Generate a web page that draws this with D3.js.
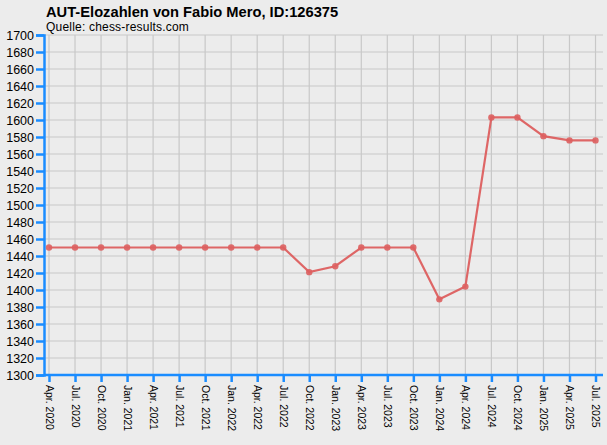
<!DOCTYPE html>
<html><head><meta charset="utf-8">
<script src="https://cdn.jsdelivr.net/npm/d3@7"></script>
<style>
html,body{margin:0;padding:0;background:#ececec;}
svg{display:block;}
text{font-family:"Liberation Sans",Arial,sans-serif;}
</style></head>
<body>
<script>
const title = "AUT-Elozahlen von Fabio Mero, ID:126375";
const subtitle = "Quelle: chess-results.com";
const categories = ["Apr. 2020","Jul. 2020","Oct. 2020","Jan. 2021","Apr. 2021","Jul. 2021","Oct. 2021","Jan. 2022","Apr. 2022","Jul. 2022","Oct. 2022","Jan. 2023","Apr. 2023","Jul. 2023","Oct. 2023","Jan. 2024","Apr. 2024","Jul. 2024","Oct. 2024","Jan. 2025","Apr. 2025","Jul. 2025"];
const elo = [1450,1450,1450,1450,1450,1450,1450,1450,1450,1450,1421,1428,1450,1450,1450,1389,1404,1603,1603,1581,1576,1576];
const yTicks = d3.range(1300, 1701, 20);

const W = 607, H = 445;
const svg = d3.select("body").append("svg").attr("width", W).attr("height", H);
svg.append("rect").attr("width", W).attr("height", H).attr("fill", "#ececec");

const x = d3.scalePoint().domain(categories).range([49, 595.5]);
const y = d3.scaleLinear().domain([1300, 1700]).range([375, 35]);
const axisBlue = "#1a8cff";

// grid
svg.append("g").selectAll("line.h").data(yTicks).join("line")
  .attr("x1", 44).attr("x2", 603).attr("y1", d => y(d)).attr("y2", d => y(d))
  .attr("stroke", "#c8c8c8").attr("stroke-width", 1.2);
svg.append("g").selectAll("line.v").data(categories).join("line")
  .attr("x1", d => x(d)).attr("x2", d => x(d)).attr("y1", 35).attr("y2", 375)
  .attr("stroke", "#c8c8c8").attr("stroke-width", 1.2);

// y axis
const yAxis = svg.append("g").attr("transform", "translate(44,0)")
  .call(d3.axisLeft(y).tickValues(yTicks).tickSize(8).tickPadding(2).tickFormat(d3.format("d")));
yAxis.select(".domain").attr("stroke", axisBlue).attr("stroke-width", 2.5);
yAxis.selectAll(".tick line").attr("stroke", axisBlue).attr("stroke-width", 2.5);
yAxis.selectAll(".tick text").attr("fill", "#000").attr("font-size", 12.5)
  .attr("font-family", "'Liberation Sans',Arial,sans-serif");

// x axis
const xAxis = svg.append("g").attr("transform", "translate(0,375)")
  .call(d3.axisBottom(x).tickSize(7).tickSizeOuter(0));
xAxis.select(".domain").attr("stroke", axisBlue).attr("stroke-width", 2.5).attr("d", "M44,0H603");
xAxis.selectAll(".tick line").attr("stroke", axisBlue).attr("stroke-width", 2.5);
xAxis.selectAll(".tick text").attr("fill", "#000").attr("font-size", 10.5)
  .attr("font-family", "'DejaVu Sans Mono','Liberation Mono',monospace")
  .attr("transform", "rotate(90)").attr("text-anchor", "start")
  .attr("x", 10).attr("y", 0).attr("dy", "0.35em");

// line
const pts = categories.map((c, i) => ({c, v: elo[i]}));
const lineColor = "#dd5f5f";
svg.append("path").datum(pts)
  .attr("d", d3.line().x(d => x(d.c)).y(d => y(d.v)))
  .attr("fill", "none").attr("stroke", lineColor).attr("stroke-width", 2.2).attr("stroke-opacity", 0.95);
svg.append("g").selectAll("circle").data(pts).join("circle")
  .attr("cx", d => x(d.c)).attr("cy", d => y(d.v)).attr("r", 3.2)
  .attr("fill", lineColor).attr("fill-opacity", 0.9);

// titles
svg.append("text").attr("x", 46).attr("y", 16.5).attr("font-size", 14.7).attr("font-weight", "bold")
  .attr("fill", "#000").text(title);
svg.append("text").attr("x", 46).attr("y", 31).attr("font-size", 12).attr("letter-spacing", 0.2)
  .attr("fill", "#000").text(subtitle);
</script>
</body></html>
